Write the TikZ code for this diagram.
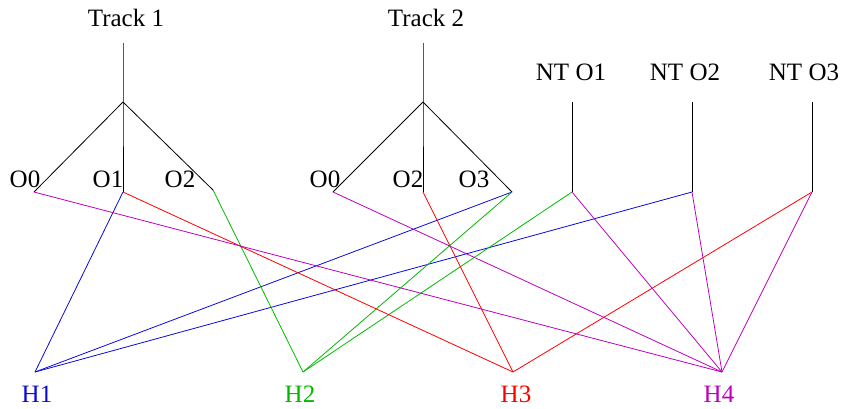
\documentclass[tikz,border=0pt]{standalone}
\usepackage{fontspec}
\setmainfont{Liberation Serif}
\definecolor{cblue}{RGB}{10,10,215}
\definecolor{cgreen}{RGB}{0,185,0}
\definecolor{cred}{RGB}{255,0,0}
\definecolor{cmag}{RGB}{190,0,190}
\begin{document}
\begin{tikzpicture}[x=1pt,y=-1pt,
  lbl/.style={inner sep=0pt,anchor=base,font=\fontsize{25}{30}\selectfont},
  tree/.style={draw=black,line width=0.8pt},
  lk/.style={line width=0.8pt}]
\useasboundingbox (0,0) rectangle (843,408);
% Track 1
\node[lbl] (t1) at (126,26) {Track 1};
\coordinate (t1top) at (123,43);
\coordinate (t1b) at (123,102);
\coordinate (a0) at (34,192);
\coordinate (a1) at (123,192);
\coordinate (a2) at (213,190);
\node[lbl] (la0) at (25,187) {O0};
\node[lbl] (la1) at (108,187) {O1};
\node[lbl] (la2) at (180,187) {O2};
\draw[tree] (t1top) -- (t1b) -- (a1);
\draw[tree] (t1b) -- (a0);
\draw[tree] (t1b) -- (a2);
% Track 2
\node[lbl] (t2) at (426,26) {Track 2};
\coordinate (t2top) at (423,43);
\coordinate (t2b) at (423,102);
\coordinate (b0) at (333,192);
\coordinate (b2) at (423,192);
\coordinate (b3) at (512,192);
\node[lbl] (lb0) at (325,187) {O0};
\node[lbl] (lb2) at (408,187) {O2};
\node[lbl] (lb3) at (474,187) {O3};
\draw[tree] (t2top) -- (t2b) -- (b2);
\draw[tree] (t2b) -- (b0);
\draw[tree] (t2b) -- (b3);
% NT
\node[lbl] (n1l) at (571,80) {NT O1};
\node[lbl] (n2l) at (685,80) {NT O2};
\node[lbl] (n3l) at (804,80) {NT O3};
\coordinate (n1t) at (572,102); \coordinate (n1) at (572,192);
\coordinate (n2t) at (692,102); \coordinate (n2) at (692,192);
\coordinate (n3t) at (812,102); \coordinate (n3) at (812,192);
\draw[tree] (n1t) -- (n1);
\draw[tree] (n2t) -- (n2);
\draw[tree] (n3t) -- (n3);
% H
\coordinate (h1) at (35,372);
\coordinate (h2) at (303,372);
\coordinate (h3) at (513,372);
\coordinate (h4) at (722,372);
\node[lbl,text=cblue] (lh1) at (37,402) {H1};
\node[lbl,text=cgreen] (lh2) at (300,402) {H2};
\node[lbl,text=cred] (lh3) at (516,402) {H3};
\node[lbl,text=cmag] (lh4) at (719,402) {H4};
% links
\draw[lk,cblue] (a1) -- (h1);
\draw[lk,cblue] (b3) -- (h1);
\draw[lk,cblue] (n2) -- (h1);
\draw[lk,cgreen] (a2) -- (h2);
\draw[lk,cgreen] (b3) -- (h2);
\draw[lk,cgreen] (n1) -- (h2);
\draw[lk,cred] (a1) -- (h3);
\draw[lk,cred] (b2) -- (h3);
\draw[lk,cred] (n3) -- (h3);
\draw[lk,cmag] (a0) -- (h4);
\draw[lk,cmag] (b0) -- (h4);
\draw[lk,cmag] (n1) -- (h4);
\draw[lk,cmag] (n2) -- (h4);
\draw[lk,cmag] (n3) -- (h4);
\end{tikzpicture}
\end{document}
